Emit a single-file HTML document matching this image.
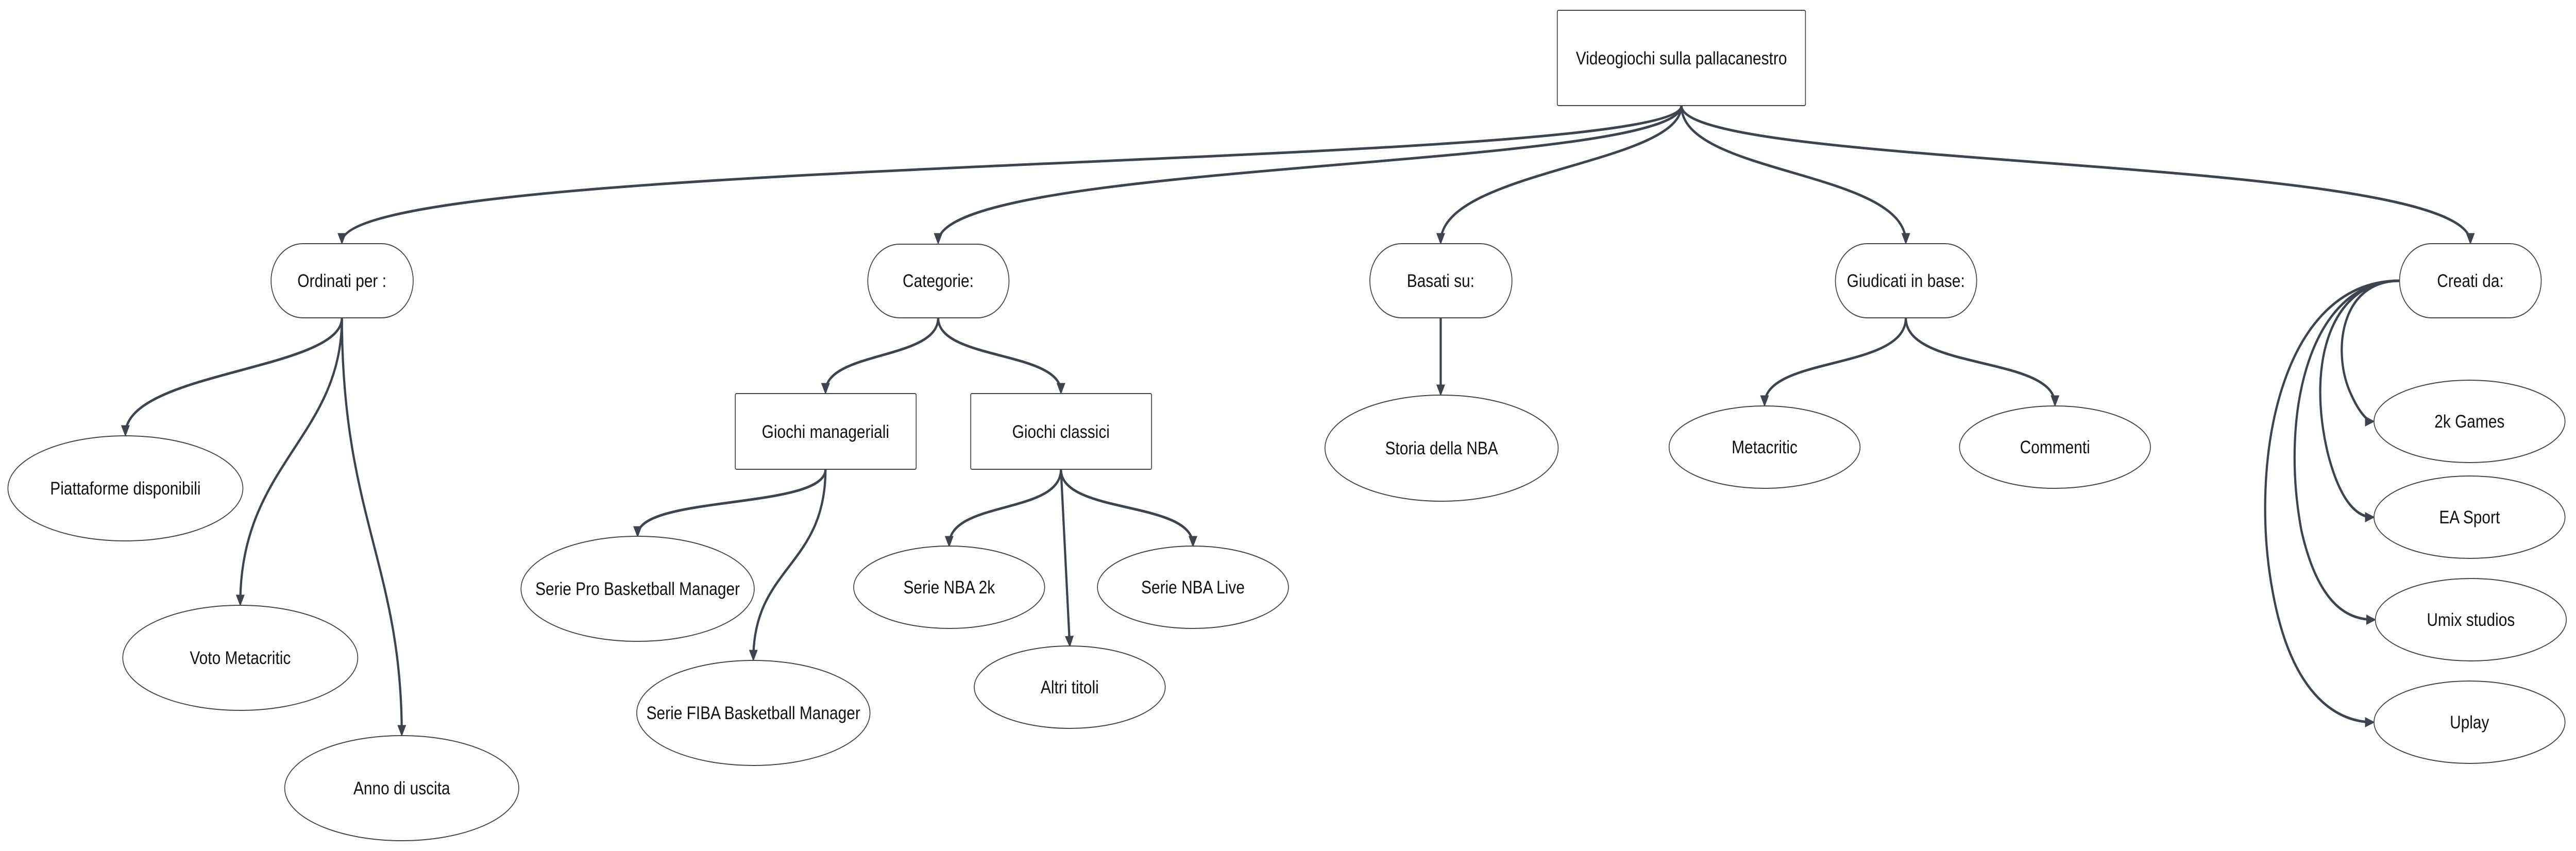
<!DOCTYPE html>
<html><head><meta charset="utf-8"><style>
html,body{margin:0;padding:0;background:#fff;overflow:hidden;width:100%;height:100%;}
svg{display:block;width:100vw;height:100vh;}
text{font-family:"Liberation Sans",sans-serif;font-size:35px;fill:#111;text-anchor:middle;dominant-baseline:central;}
.n{fill:#fff;stroke:#444;stroke-width:2;}
.e{fill:none;stroke:#3d4450;stroke-width:5;marker-end:url(#a);}
</style></head><body>
<svg viewBox="0 0 5854 1652" preserveAspectRatio="none" xmlns="http://www.w3.org/2000/svg">
<defs><marker id="a" markerWidth="4.5" markerHeight="4" refX="3.5" refY="2" orient="auto" markerUnits="strokeWidth"><path d="M0,0 L4.5,2 L0,4 Z" fill="#3d4450"/></marker></defs>
<path class="e" d="M3821 205 C3821 330,777 300,777 470"/>
<path class="e" d="M3821 205 C3821 330,2132 310,2132 470"/>
<path class="e" d="M3821 205 C3821 320,3274 330,3274 470"/>
<path class="e" d="M3821 205 C3821 340,4331 330,4331 470"/>
<path class="e" d="M3821 205 C3821 330,5614 300,5614 470"/>
<path class="e" d="M777 617 C777 720,285 720,285 843"/>
<path class="e" d="M777 617 C777 850,546 900,546 1172"/>
<path class="e" d="M777 617 C777 1000,913 1100,913 1425"/>
<path class="e" d="M2132 617 C2132 700,1876 680,1876 761"/>
<path class="e" d="M2132 617 C2132 700,2411 680,2411 761"/>
<path class="e" d="M1876 911 C1876 990,1449 960,1449 1039"/>
<path class="e" d="M1876 911 C1876 1100,1712 1100,1712 1279"/>
<path class="e" d="M2411 911 C2411 1000,2157 970,2157 1058"/>
<path class="e" d="M2411 911 L2431 1252"/>
<path class="e" d="M2411 911 C2411 1000,2711 970,2711 1058"/>
<path class="e" d="M3274 617 L3274 764"/>
<path class="e" d="M4331 617 C4331 720,4010 690,4010 785"/>
<path class="e" d="M4331 617 C4331 720,4670 690,4670 785"/>
<path class="e" d="M5453 545 C5320 545,5300 680,5340 760 C5360 800,5380 818,5392 818"/>
<path class="e" d="M5453 545 C5300 545,5240 700,5290 880 C5320 980,5360 1004,5392 1004"/>
<path class="e" d="M5453 545 C5250 545,5180 800,5230 1030 C5270 1180,5340 1203,5395 1203"/>
<path class="e" d="M5453 545 C5180 545,5110 900,5165 1150 C5210 1360,5320 1402,5392 1402"/>
<rect class="n" x="3539" y="20" width="564" height="185" rx="3"/><text x="3821" y="113">Videogiochi sulla pallacanestro</text>
<rect class="n" x="616" y="473" width="323" height="144" rx="72"/><text x="777" y="545">Ordinati per :</text>
<rect class="n" x="1972" y="474" width="321" height="143" rx="72"/><text x="2132" y="545">Categorie:</text>
<rect class="n" x="3113" y="473" width="323" height="144" rx="72"/><text x="3274" y="545">Basati su:</text>
<rect class="n" x="4171" y="473" width="321" height="144" rx="72"/><text x="4331" y="545">Giudicati in base:</text>
<rect class="n" x="5453" y="473" width="322" height="144" rx="72"/><text x="5614" y="545">Creati da:</text>
<ellipse class="n" cx="285" cy="948" rx="267" ry="102"/><text x="285" y="948">Piattaforme disponibili</text>
<ellipse class="n" cx="546" cy="1277" rx="267" ry="102"/><text x="546" y="1277">Voto Metacritic</text>
<ellipse class="n" cx="913" cy="1530" rx="266" ry="102"/><text x="913" y="1530">Anno di uscita</text>
<rect class="n" x="1671" y="764" width="411" height="147" rx="3"/><text x="1876" y="838">Giochi manageriali</text>
<rect class="n" x="2206" y="764" width="411" height="147" rx="3"/><text x="2411" y="838">Giochi classici</text>
<ellipse class="n" cx="1449" cy="1143" rx="265" ry="102"/><text x="1449" y="1143">Serie Pro Basketball Manager</text>
<ellipse class="n" cx="1712" cy="1384" rx="265" ry="102"/><text x="1712" y="1384">Serie FIBA Basketball Manager</text>
<ellipse class="n" cx="2157" cy="1140" rx="217" ry="80"/><text x="2157" y="1140">Serie NBA 2k</text>
<ellipse class="n" cx="2431" cy="1334" rx="217" ry="80"/><text x="2431" y="1334">Altri titoli</text>
<ellipse class="n" cx="2711" cy="1140" rx="217" ry="80"/><text x="2711" y="1140">Serie NBA Live</text>
<ellipse class="n" cx="3276" cy="870" rx="265" ry="103"/><text x="3276" y="870">Storia della NBA</text>
<ellipse class="n" cx="4010" cy="868" rx="217" ry="80"/><text x="4010" y="868">Metacritic</text>
<ellipse class="n" cx="4670" cy="868" rx="217" ry="80"/><text x="4670" y="868">Commenti</text>
<ellipse class="n" cx="5612" cy="818" rx="217" ry="80"/><text x="5612" y="818">2k Games</text>
<ellipse class="n" cx="5612" cy="1004" rx="217" ry="80"/><text x="5612" y="1004">EA Sport</text>
<ellipse class="n" cx="5615" cy="1203" rx="217" ry="80"/><text x="5615" y="1203">Umix studios</text>
<ellipse class="n" cx="5612" cy="1402" rx="217" ry="80"/><text x="5612" y="1402">Uplay</text>
</svg>
</body></html>
